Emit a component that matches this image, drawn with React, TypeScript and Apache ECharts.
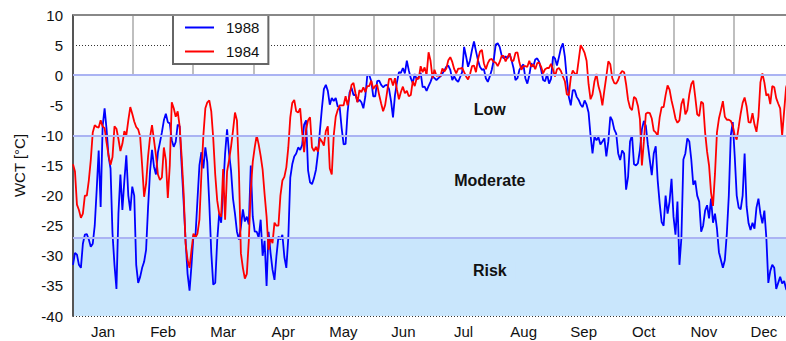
import React, { useEffect, useRef } from "react";
import * as echarts from "echarts";

// Month labels for the category axis (one equal slot per month)
const MONTHS = ["Jan", "Feb", "Mar", "Apr", "May", "Jun", "Jul", "Aug", "Sep", "Oct", "Nov", "Dec"];
const YEAR_DAYS = 365;

// Daily wind-chill temperature (°C), day 0 = 1 January
const wct1988 = [
  -31.5, -29.5, -29.8, -31.5, -32, -28, -26.5, -26.4, -27.3, -28.5,
  -28, -25, -19, -12.5, -21.9, -8.5, -5.5, -9, -13.5, -15.5,
  -26.3, -31.5, -35.5, -23, -16.5, -22.4, -17.5, -13.3, -20, -22.5,
  -18.5, -20, -31.5, -34.5, -33.5, -32, -31, -29, -22, -16,
  -12.4, -15.2, -16.5, -12.8, -11.2, -9.5, -7.5, -6.4, -7.8, -8,
  -10.8, -11.9, -11.1, -8.2, -8.5, -15, -21, -27.5, -33, -35.8,
  -31.5, -26.5, -26.7, -20.8, -15, -12.8, -15.5, -12, -14.5, -21.3,
  -29.5, -34.8, -34.5, -27.5, -23, -24.5, -19, -13, -9, -13,
  -15.8, -20.5, -23, -26, -27.3, -25.2, -22.3, -24.3, -23.5, -24.8,
  -15, -23.5, -26, -26, -27, -24, -30, -27.5, -35, -26,
  -29.5, -32.3, -34, -30, -26.8, -27.3, -26.5, -30.2, -32, -27,
  -17, -14.8, -13.5, -13, -12, -12.4, -11.6, -8.2, -7.5, -15.8,
  -17.8, -18.1, -17.1, -15.7, -13, -9.2, -5.5, -2.3, -1.6, -2.6,
  -4.9, -3.8, -4.3, -3.8, -5.2, -5.3, -8.8, -11.5, -11.4, -6.2,
  -2.9, -2.1, -3.3, -3.2, -4.4, -4.1, -4.5, -5.5, -3.5, 0,
  0, -1, -3.5, -3.5, -1, -0.9, -1.6, -2, -1.7, -1.6,
  -2.3, -4.3, -7, -3.3, -1.2, 0.5, 0.4, 1.2, 0.3, 2.4,
  0.8, -0.5, -1.3, 0.2, -0.7, -0.3, 0.4, -2, -1.9, -2.6,
  -1.8, -1.1, -0.2, -0.5, -0.8, -0.5, -0.2, 0.3, 0.8, 1.4,
  1.6, 0.9, -0.8, -0.2, -0.8, -1.1, -0.3, 0.5, 4.7, 3.1,
  1.4, 2.5, 4.2, 5.6, 4, 2.5, 1.4, 0.9, 1, -0.5,
  -1.1, -0.2, 0.9, 2.5, 5.1, 5.3, 4.7, 3.3, 2.8, 3.1,
  2.8, 3.6, 2.5, 1.2, -0.8, -0.5, 0.9, 1.4, 1.8, -0.5,
  -1.4, 0, 2, 1.4, 2.6, 2.8, 2.2, 0.9, -0.8, -1,
  0.2, -1.4, -0.6, 3.1, 2.8, 1.6, 3, 4.5, 5.3, 3.1,
  -0.6, -3.6, -5, -2.5, -2.5, -3.6, -4.1, -4.9, -5.3, -4.2,
  -4.9, -6.2, -10, -13, -10.2, -10.8, -10.3, -11.5, -11, -10.5,
  -13.5, -11, -6.9, -7.5, -9, -9.7, -13, -14.1, -12.5, -13,
  -19, -16.9, -11, -10, -14.8, -15, -14.6, -12.4, -9, -7.6,
  -8.4, -11.5, -14.1, -16.6, -13, -11.8, -17.5, -21.3, -24.4, -25,
  -20, -23, -21, -17.2, -23.5, -26.5, -21, -31.5, -27, -14,
  -13, -10.5, -11, -14, -18.2, -17.5, -20, -21, -26, -25,
  -22.5, -21.6, -23.8, -20.5, -24.5, -23, -25.5, -29.4, -30.7, -32,
  -30.7, -26.3, -20, -10, -7.8, -13.5, -20, -22, -22.3, -20,
  -13, -21.8, -24.6, -25.7, -24.5, -25.5, -22, -20.5, -23, -24.6,
  -22.5, -27, -34.5, -32.5, -31.5, -32, -35.5, -34.5, -33.5, -34.6,
  -34.2, -35.5, -36, -34.5, -35,
];

const wct1984 = [
  -14.8, -16, -21.5, -22.4, -23.7, -23, -20, -20, -17.5, -14.1,
  -9.5, -8.3, -8.6, -8.7, -7.5, -8.5, -8.8, -11.2, -13.3, -14.9,
  -13.6, -8.5, -8.9, -10.6, -12.6, -11.4, -9.3, -10, -7.5, -5.3,
  -6.4, -7.7, -8.6, -9, -10.2, -15, -20.2, -18, -13.5, -10.3,
  -8.3, -10.8, -13.3, -16.5, -17.4, -17, -12, -14.1, -20.4, -15,
  -4.5, -5.5, -6.9, -6, -8.5, -13.5, -19.5, -28, -30.7, -32,
  -29, -26.3, -27, -26.3, -24, -16.5, -10, -5.5, -4.5, -4.2,
  -6, -10.5, -16.5, -20.8, -23, -23.5, -15.6, -24, -16, -14.1,
  -11.9, -9.2, -6.2, -7.5, -16, -29.6, -32, -33.8, -33, -27.5,
  -19, -14.4, -12, -10, -11.5, -13.4, -15.7, -19.8, -23.5, -29,
  -27, -27.9, -24.5, -25, -25, -20, -17.5, -16.9, -15.3, -12,
  -7, -4.6, -4.1, -6, -6.2, -5.5, -9.5, -12.8, -9, -7.5,
  -7, -12, -12.6, -11.9, -12.7, -10.5, -11, -11.7, -9.3, -8.5,
  -15.5, -16.5, -10, -6.9, -5.8, -5, -5, -5, -3.5, -5,
  -3.4, -1.6, -1.3, -3, -4.5, -2.5, -2.8, -2, -2.8, -1.8,
  -1.8, -0.9, -2.3, -1.8, -1.6, -3.3, -4.7, -6, -5, -2.8,
  -0.6, -0.6, -1.7, -0.5, -2.4, -4, -2.8, -1.9, -3, -2.6,
  -3.5, -3.3, -1, -1.8, -0.5, -0.6, 1.5, 0.5, 1.3, 0,
  3.8, 2.4, -0.5, 0.9, -0.1, 0, -0.2, 1.1, 0.6, 1.1,
  2.5, 3, 2.2, 1, 0.3, 1.1, 1.1, 1.2, 0.5, -0.2,
  -0.7, 0.2, 1.5, 1.6, 0.5, 2.6, 3.9, 4.2, 2, 1,
  2, 2.6, 2.7, 2.2, 2.1, 1.5, 2.2, 3.2, 3.2, 2.3,
  3, 3.6, 2.4, 2.4, 3.7, 3.8, 2.1, 0.9, 1.5, 1.5,
  1.4, 2.4, 1.4, 1.8, 1, 2, 2.1, 1.4, 0.3, 1,
  1.2, 1.2, 1.9, 0.9, -0.2, 1, 1.2, 0.7, -0.2, -1,
  -3.2, -3.3, -0.4, 0.8, 0.3, 0, 2.5, 5, 4.4, 3.7,
  2.4, -1.5, -4, -3.2, -1, 0.2, -1.8, -3, -5, -2.5,
  -0.2, 2.3, 1.8, -0.5, -1.3, -1.4, -0.8, 0.2, 0.7, 0.5,
  -1.5, -4.1, -5.4, -5.8, -3.6, -3.9, -5.1, -7.3, -15, -11,
  -6.4, -6.2, -6.3, -7.2, -9.2, -9.5, -10, -7, -5.3, -5.3,
  -3.3, -1.7, -2.4, -4.2, -5.6, -7.2, -7.9, -7.5, -4.8, -3.9,
  -6.5, -5.8, -3.2, -1.5, -0.9, -3.6, -6.5, -6.8, -4.4, -4.7,
  -9.5, -12.7, -15, -19.5, -21.7, -16.4, -9.5, -7.2, -5.8, -4.3,
  -6.9, -7.4, -7.4, -7.6, -8.4, -10, -10.7, -8.6, -6.4, -4.6,
  -3.7, -5.2, -7.8, -7.9, -6.3, -8.2, -9.4, -6.9, -1.2, 0.3,
  -1.2, -3.4, -3.1, -4.8, -1.8, -2, -3.8, -4.7, -5.5, -10,
  -6, -2, -1, -0.5, -1,
];

// Risk zones: upper and lower WCT limits of each band
const BAND_NAMES = ["Low", "Moderate", "Risk"];
const BAND_TOPS = [0, -10, -27];
const BAND_BOTTOMS = [-10, -27, -40];
const BAND_LABEL_VALUES = [-5.7, -17.5, -32.5];
const BAND_LABEL_DAY = 211;

const BAND_COLORS = ["#eff7fe", "#ddf0fc", "#c9e6fc"];
const FONT = '"Liberation Sans", Arial, Helvetica, sans-serif';

export default function App() {
  const ref = useRef<HTMLDivElement>(null);

  useEffect(() => {
    if (!ref.current) return;
    const chart = echarts.init(ref.current, null, { renderer: "svg" });
    const toPairs = (arr: number[]) => arr.map((v, i) => [i, v]);

    chart.setOption({
      animation: false,
      textStyle: { fontFamily: FONT },
      grid: { left: 73, top: 15, width: 721, height: 301 },
      legend: {
        data: ["1988", "1984"],
        orient: "vertical",
        left: 173,
        top: 15,
        padding: [5, 9, 5, 12],
        icon: "rect",
        itemWidth: 29,
        itemHeight: 2,
        itemGap: 9,
        borderColor: "#666",
        borderWidth: 2,
        borderRadius: 0,
        backgroundColor: "#ffffff",
        selectedMode: false,
        textStyle: { fontSize: 15, lineHeight: 15, color: "#111", fontFamily: FONT, padding: [0, 0, 0, 7] },
      },
      xAxis: [
        {
          type: "category",
          data: MONTHS,
          boundaryGap: true,
          z: 1,
          axisLine: { show: true, lineStyle: { color: "#555", width: 2 } },
          axisTick: { show: false },
          axisLabel: { fontSize: 15, color: "#111", margin: 8, fontFamily: FONT },
          splitLine: { show: true, lineStyle: { color: "#aaaaaa", width: 1.5 } },
        },
        { type: "value", min: 0, max: YEAR_DAYS, show: false },
      ],
      yAxis: {
        type: "value",
        min: -40,
        max: 10,
        interval: 5,
        z: 1,
        name: "WCT [°C]",
        nameLocation: "middle",
        nameRotate: 90,
        nameGap: 46,
        nameTextStyle: { fontSize: 15, color: "#111", fontFamily: FONT },
        axisLine: { show: true, lineStyle: { color: "#555", width: 2 } },
        axisTick: { show: false },
        axisLabel: { fontSize: 15, color: "#111", margin: 10, fontFamily: FONT },
        splitLine: { show: true, lineStyle: { color: "#333", type: [1, 2], width: 1 } },
      },
      series: [
        {
          name: "bands",
          type: "line",
          xAxisIndex: 1,
          data: [],
          z: 0,
          silent: true,
          markArea: {
            silent: true,
            data: BAND_NAMES.map((_, i) => [
              { yAxis: BAND_TOPS[i], itemStyle: { color: BAND_COLORS[i] } },
              { yAxis: BAND_BOTTOMS[i] },
            ]),
          },
        },
        {
          name: "limits",
          type: "line",
          xAxisIndex: 1,
          data: [],
          z: 2,
          silent: true,
          markLine: {
            silent: true,
            symbol: ["none", "none"],
            label: { show: false },
            lineStyle: { color: "#aab3f3", width: 2, type: "solid" },
            data: [
              ...BAND_TOPS.map((v) => ({ yAxis: v })),
              { yAxis: 10, lineStyle: { color: "#888", width: 2, type: "solid" } },
            ],
          },
        },
        {
          name: "1988",
          type: "line",
          xAxisIndex: 1,
          data: toPairs(wct1988),
          symbol: "none",
          z: 3,
          lineStyle: { color: "#0000ff", width: 1.8 },
          itemStyle: { color: "#0000ff" },
        },
        {
          name: "1984",
          type: "line",
          xAxisIndex: 1,
          data: toPairs(wct1984),
          symbol: "none",
          z: 4,
          lineStyle: { color: "#ff0000", width: 1.8 },
          itemStyle: { color: "#ff0000" },
        },
      ],
    });

    // Zone names, placed through the axes' own scales
    const lx = chart.convertToPixel({ xAxisIndex: 1 }, BAND_LABEL_DAY) as number;
    chart.setOption({
      graphic: BAND_NAMES.map((name, i) => ({
        type: "text",
        x: lx,
        y: chart.convertToPixel({ yAxisIndex: 0 }, BAND_LABEL_VALUES[i]) as number,
        z: 5,
        silent: true,
        style: {
          text: name,
          fill: "#111",
          font: `bold 16px ${FONT}`,
          align: "center",
          textAlign: "center",
          verticalAlign: "middle",
          textVerticalAlign: "middle",
          backgroundColor: BAND_COLORS[i],
          padding: [1, 9],
        },
      })),
    });

    return () => chart.dispose();
  }, []);

  return (
    <div style={{ position: "absolute", left: 0, top: 0, width: 786, height: 341, overflow: "hidden", background: "#fff" }}>
      <div ref={ref} style={{ width: 800, height: 341 }} />
    </div>
  );
}
